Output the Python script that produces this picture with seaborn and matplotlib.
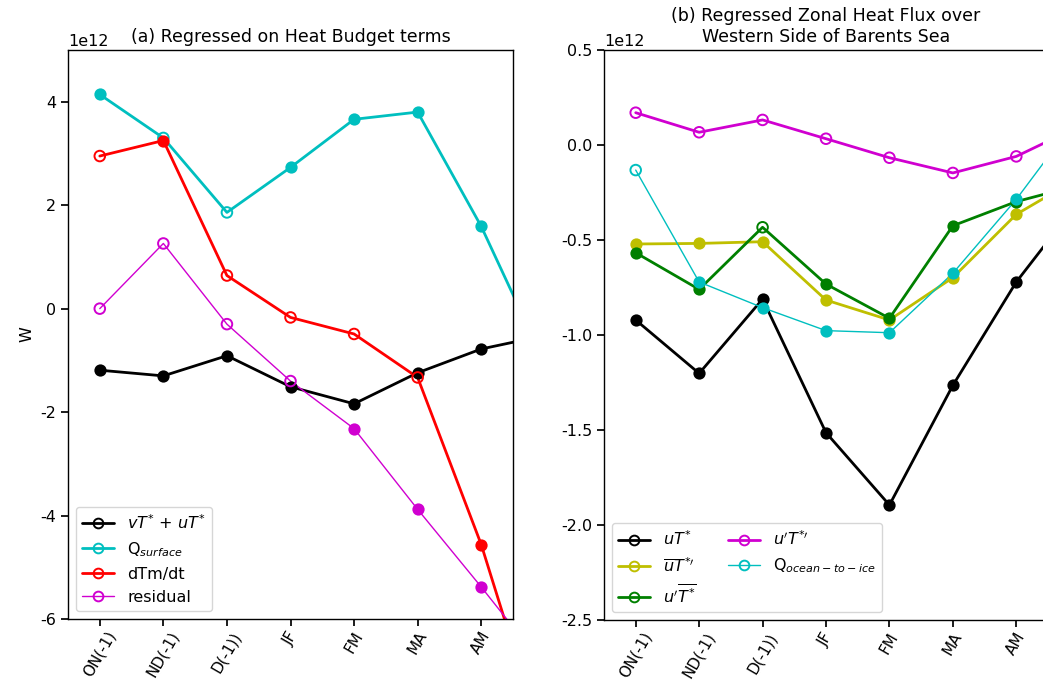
import numpy as np
import pandas as pd
import matplotlib
matplotlib.use('Agg')
import matplotlib.pyplot as plt
import seaborn as sns
from matplotlib.lines import Line2D

# ---- data (units of 1e12 W) ----
months = ['ON(-1)', 'ND(-1)', 'D(-1))', 'JF', 'FM', 'MA', 'AM', 'MJ']

# (a) heat budget terms
flux_a = [-1.19, -1.30, -0.91, -1.51, -1.84, -1.24, -0.78, -0.52]
qsurf = [4.14, 3.30, 1.86, 2.73, 3.66, 3.80, 1.59, -1.05]
dtmdt = [2.95, 3.25, 0.64, -0.17, -0.49, -1.33, -4.56, -8.50]
resid = [0.00, 1.26, -0.30, -1.40, -2.32, -3.88, -5.38, -6.93]

sig_flux_a = [1, 1, 1, 1, 1, 1, 1, 1]
sig_qsurf = [1, 0, 0, 1, 1, 1, 1, 1]
sig_dtmdt = [0, 1, 0, 0, 0, 0, 1, 1]
sig_resid = [0, 0, 0, 0, 1, 1, 1, 1]

# (b) zonal heat flux, western Barents Sea
uT = [-0.921, -1.202, -0.811, -1.514, -1.895, -1.265, -0.721, -0.29]
ubarT = [-0.521, -0.518, -0.509, -0.816, -0.921, -0.698, -0.365, -0.17]
uTbar = [-0.567, -0.760, -0.433, -0.732, -0.912, -0.425, -0.298, -0.21]
uprTpr = [0.170, 0.067, 0.132, 0.033, -0.067, -0.147, -0.060, 0.10]
qice = [-0.132, -0.721, -0.856, -0.977, -0.988, -0.675, -0.286, 0.16]

sig_uT = [1, 1, 1, 1, 1, 1, 1, 1]
sig_ubarT = [1, 1, 1, 1, 1, 1, 1, 1]
sig_uTbar = [1, 1, 0, 1, 1, 1, 1, 1]
sig_uprTpr = [0, 0, 0, 0, 0, 0, 0, 0]
sig_qice = [0, 1, 1, 1, 1, 1, 1, 1]

SCALE = 1e12
K, C, R, M, Y, G = '#000000', '#00bfbf', '#ff0000', '#d000d0', '#bfbf00', '#008000'

sns.set_theme(style='ticks', color_codes=False, rc={
    'font.size': 11.5, 'axes.titlesize': 12.5, 'axes.labelsize': 11.5,
    'xtick.labelsize': 11, 'ytick.labelsize': 11.5, 'legend.fontsize': 11.5,
    'axes.edgecolor': 'black', 'axes.linewidth': 1.0,
    'xtick.color': 'black', 'ytick.color': 'black', 'text.color': 'black',
    'axes.labelcolor': 'black', 'xtick.major.size': 5, 'ytick.major.size': 5,
    'axes.unicode_minus': False, 'mathtext.fontset': 'dejavusans',
})
plt.rcParams['font.family'] = ['DejaVu Sans']

fig = plt.figure(figsize=(10.43, 6.83), dpi=100)
ax1 = fig.add_axes([68 / 1043, 64 / 683, 445 / 1043, 569 / 683])
ax2 = fig.add_axes([604 / 1043, 63 / 683, 444 / 1043, 570 / 683])


def draw_series(ax, vals, sig, color, lw, label):
    df = pd.DataFrame({'x': np.arange(len(vals)), 'y': np.array(vals) * SCALE,
                       'sig': np.array(sig, dtype=bool)})
    sns.lineplot(data=df, x='x', y='y', color=color, linewidth=lw, ax=ax,
                 estimator=None, sort=False)
    # filled = significant, hollow = not significant
    sns.scatterplot(data=df[df['sig']], x='x', y='y', color=color, edgecolor=color,
                    s=58, linewidth=1.2, ax=ax, zorder=3)
    sns.scatterplot(data=df[~df['sig']], x='x', y='y', facecolor='none', edgecolor=color,
                    s=58, linewidth=1.4, ax=ax, zorder=3)
    return Line2D([], [], color=color, lw=lw, marker='o', markersize=7,
                  markerfacecolor='none', markeredgecolor=color, markeredgewidth=1.4,
                  label=label)


# ---- panel (a) ----
h = []
h.append(draw_series(ax1, flux_a, sig_flux_a, K, 2.0, r'$vT^{*}$ + $uT^{*}$'))
h.append(draw_series(ax1, qsurf, sig_qsurf, C, 2.0, r'Q$_{surface}$'))
h.append(draw_series(ax1, dtmdt, sig_dtmdt, R, 2.0, 'dTm/dt'))
h.append(draw_series(ax1, resid, sig_resid, M, 1.0, 'residual'))
ax1.set_xlim(-0.5, 6.5)
ax1.set_ylim(-6 * SCALE, 5 * SCALE)
ax1.set_yticks(np.arange(-6, 5, 2) * SCALE)
ax1.set_title('(a) Regressed on Heat Budget terms')
ax1.set_ylabel('W')
ax1.set_xlabel('')
ax1.legend(handles=h, loc='lower left', framealpha=0.8)

# ---- panel (b) ----
h2 = []
h2.append(draw_series(ax2, uT, sig_uT, K, 2.0, r'$uT^{*}$'))
h2.append(draw_series(ax2, ubarT, sig_ubarT, Y, 2.0, r'$\overline{u}T^{*\prime}$'))
h2.append(draw_series(ax2, uTbar, sig_uTbar, G, 2.0, r'$u^{\prime}\overline{T^{*}}$'))
h2.append(draw_series(ax2, uprTpr, sig_uprTpr, M, 2.0, r'$u^{\prime}T^{*\prime}$'))
h2.append(draw_series(ax2, qice, sig_qice, C, 1.0, r'Q$_{ocean-to-ice}$'))
ax2.set_xlim(-0.5, 6.5)
ax2.set_ylim(-2.5 * SCALE, 0.5 * SCALE)
ax2.set_yticks(np.arange(-2.5, 0.51, 0.5) * SCALE)
ax2.set_title('(b) Regressed Zonal Heat Flux over\nWestern Side of Barents Sea')
ax2.set_ylabel('')
ax2.set_xlabel('')
ax2.legend(handles=h2, loc='lower left', ncol=2, framealpha=0.8)

for ax in (ax1, ax2):
    ax.set_xticks(range(7))
    ax.set_xticklabels(months[:7], rotation=60)
    ax.tick_params(axis='x', pad=2)

fig.savefig('out.png', dpi=100)
